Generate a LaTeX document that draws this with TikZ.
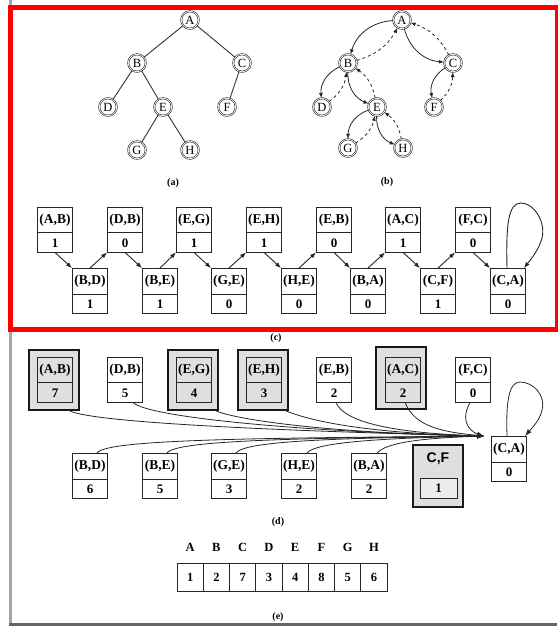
\documentclass[tikz,border=0pt]{standalone}
\usepackage{fontspec}
\setmainfont{Liberation Serif}
\newfontfamily\sansf{Liberation Sans}
\usetikzlibrary{arrows.meta}
\newcommand\ebox[6][]{%
  \node[ebx,#1] (#2) at (#3,#4) {};
  \draw[divl] ([yshift=-26pt]#2.north west) -- ([yshift=-26pt]#2.north east);
  \node[lbl] (#2-l) at ([yshift=-13.5pt]#2.north) {#5};
  \node[numf] (#2-n) at ([yshift=9.5pt]#2.south) {#6};
}
\begin{document}
\begin{tikzpicture}[x=1pt,y=-1pt,
  tnode/.style={circle,draw=black!85,double=white,double distance=0.7pt,line width=0.6pt,
    minimum size=17.5pt,inner sep=0pt,font=\fontsize{12.5}{12.5}\selectfont},
  tedge/.style={draw=black!80,line width=0.9pt},
  tarr/.style={draw=black!85,line width=0.8pt,-{Latex[length=5pt,width=4pt]}},
  sub/.style={font=\fontsize{10}{10}\selectfont\bfseries,inner sep=0pt},
  ebx/.style={draw=black!85,line width=0.9pt,minimum width=35pt,minimum height=45pt,inner sep=0pt},
  divl/.style={draw=black!85,line width=0.9pt},
  lbl/.style={font=\fontsize{13.5}{13.5}\selectfont\bfseries,inner sep=0pt},
  numf/.style={font=\fontsize{13}{13}\selectfont\bfseries,inner sep=0pt},
  shbox/.style={draw=black!90,line width=1.8pt,fill=gray!25,minimum width=50pt,minimum height=60pt,inner sep=0pt},
  carr/.style={draw=black!85,line width=0.9pt,-{Latex[length=6pt,width=4.5pt]}},
  darr/.style={draw=black!85,line width=0.8pt,-{Latex[length=7pt,width=5pt]}},
  cell/.style={draw=black!85,line width=0.9pt,minimum width=26.25pt,minimum height=28pt,inner sep=0pt,
    font=\fontsize{12.5}{12.5}\selectfont\bfseries},
  hdr/.style={font=\fontsize{12.5}{12.5}\selectfont\bfseries,inner sep=0pt}
]
\useasboundingbox (0,0) rectangle (557,626);
% gray page border
\draw[gray!70,line width=3pt] (10.5,0) -- (10.5,624.5);
\draw[black!60,line width=3pt] (9,624.5) -- (557,624.5);

% ---------- (a) tree ----------
\node[tnode] (aA) at (190,20) {A};
\node[tnode] (aB) at (137,63) {B};
\node[tnode] (aC) at (242,63) {C};
\node[tnode] (aD) at (108,107) {D};
\node[tnode] (aE) at (163,107) {E};
\node[tnode] (aF) at (227,107) {F};
\node[tnode] (aG) at (137,150) {G};
\node[tnode] (aH) at (190,150) {H};
\draw[tedge] (aA) -- (aB);
\draw[tedge] (aA) -- (aC);
\draw[tedge] (aB) -- (aD);
\draw[tedge] (aB) -- (aE);
\draw[tedge] (aC) -- (aF);
\draw[tedge] (aE) -- (aG);
\draw[tedge] (aE) -- (aH);
\node[sub] (la) at (173,183) {(a)};

% ---------- (b) Euler tour ----------
\node[tnode] (bA) at (402,20) {A};
\node[tnode] (bB) at (348,63) {B};
\node[tnode] (bC) at (453,63) {C};
\node[tnode] (bD) at (322,107) {D};
\node[tnode] (bE) at (377,107) {E};
\node[tnode] (bF) at (434,107) {F};
\node[tnode] (bG) at (348,148) {G};
\node[tnode] (bH) at (403,148) {H};
\foreach \p/\c in {bA/bB,bA/bC,bB/bD,bB/bE,bC/bF,bE/bG,bE/bH}{
  \draw[tarr] (\p) to[bend right=35] (\c);
  \draw[tarr,dashed] (\c) to[bend right=22] (\p);
}
\node[sub] (lb) at (387,182) {(b)};

% ---------- (c) linked list ----------
\ebox{cAB}{55}{229.5}{(A,B)}{1}
\ebox{cDB}{125}{229.5}{(D,B)}{0}
\ebox{cEG}{194}{229.5}{(E,G)}{1}
\ebox{cEH}{264}{229.5}{(E,H)}{1}
\ebox{cEB}{334}{229.5}{(E,B)}{0}
\ebox{cAC}{403}{229.5}{(A,C)}{1}
\ebox{cFC}{473}{229.5}{(F,C)}{0}
\ebox{cBD}{90}{291}{(B,D)}{1}
\ebox{cBE}{160}{291}{(B,E)}{1}
\ebox{cGE}{229}{291}{(G,E)}{0}
\ebox{cHE}{299}{291}{(H,E)}{0}
\ebox{cBA}{368}{291}{(B,A)}{0}
\ebox{cCF}{438}{291}{(C,F)}{1}
\ebox{cCA}{508}{291}{(C,A)}{0}
\foreach \t/\b/\n in {cAB/cBD/cDB,cDB/cBE/cEG,cEG/cGE/cEH,cEH/cHE/cEB,cEB/cBA/cAC,cAC/cCF/cFC}{
  \draw[carr] (\t.south) -- (\b.north west);
  \draw[carr] (\b.north) -- (\n.south west);
}
\draw[carr] (cFC.south) -- (cCA.north west);
\draw[carr] ([xshift=-1pt]cCA.north) .. controls (506,225) and (508,203) .. (521,203)
  .. controls (534,203) and (546,222) .. (542,238)
  .. controls (539,249) and (532,258) .. ([xshift=-2pt]cCA.north east);
\node[sub] (lc) at (276,338) {(c)};

% ---------- (d) ----------
\node[shbox] (dABo) at (54,380) {};
\node[shbox] (dEGo) at (193,380) {};
\node[shbox] (dEHo) at (263,380) {};
\node[shbox,minimum height=62pt] (dACo) at (401,378) {};
\ebox{dAB}{55}{379.5}{(A,B)}{7}
\ebox{dDB}{125}{379.5}{(D,B)}{5}
\ebox{dEG}{194}{379.5}{(E,G)}{4}
\ebox{dEH}{264}{379.5}{(E,H)}{3}
\ebox{dEB}{334}{379.5}{(E,B)}{2}
\ebox{dAC}{403}{379.5}{(A,C)}{2}
\ebox{dFC}{473}{379.5}{(F,C)}{0}
\ebox{dBD}{90}{476}{(B,D)}{6}
\ebox{dBE}{160}{476}{(B,E)}{5}
\ebox{dGE}{229}{476}{(G,E)}{3}
\ebox{dHE}{299}{476}{(H,E)}{2}
\ebox{dBA}{369}{476}{(B,A)}{2}
\ebox{dCA}{509}{459}{(C,A)}{0}
\node[shbox,minimum height=62pt] (dCFo) at (438,476) {};
\node[font=\sansf\bfseries\fontsize{14}{14}\selectfont,inner sep=0pt] (dCF-l) at (438,459) {C,F};
\node[draw=black!85,line width=0.8pt,fill=gray!15,minimum width=37pt,minimum height=20pt,inner sep=0pt,
  font=\fontsize{13}{13}\selectfont\bfseries] (dCF-n) at (438.5,488) {1};
\coordinate (conv) at ([xshift=-7pt]dCA.north west);
\draw[darr] ([xshift=-10pt]dABo.south east) .. controls +(25,12) and +(-200,-5) .. (conv);
\draw[darr] ([xshift=8pt]dDB.south) .. controls +(15,15) and +(-180,-4) .. (conv);
\draw[darr] ([xshift=-3pt]dEGo.south east) .. controls +(25,10) and +(-150,-3) .. (conv);
\draw[darr] ([xshift=-3pt]dEHo.south east) .. controls +(25,10) and +(-120,-3) .. (conv);
\draw[darr] ([xshift=2pt]dEB.south) .. controls +(8,20) and +(-90,-3) .. (conv);
\draw[darr] ([xshift=2pt]dAC.south) .. controls +(10,25) and +(-40,-4) .. (conv);
\draw[darr] ([xshift=-3pt]dFC.south) .. controls +(-12,22) and +(-10,-3) .. (conv);
\draw[darr] ([xshift=7pt]dBD.north) .. controls +(8,-14) and +(-220,2) .. (conv);
\draw[darr] ([xshift=7pt]dBE.north) .. controls +(8,-13) and +(-180,2) .. (conv);
\draw[darr] ([xshift=7pt]dGE.north) .. controls +(8,-12) and +(-150,2) .. (conv);
\draw[darr] ([xshift=8pt]dHE.north) .. controls +(8,-11) and +(-100,2) .. (conv);
\draw[darr] ([xshift=8pt]dBA.north) .. controls +(10,-11) and +(-60,2) .. (conv);
\draw[darr] ([xshift=-2pt]dCA.north) .. controls (506,405) and (508,382) .. (520,382)
  .. controls (533,382) and (546,395) .. (542,410)
  .. controls (540,420) and (532,428) .. ([xshift=-2pt]dCA.north east);
\node[sub] (ld) at (278,522) {(d)};

% ---------- (e) array ----------
\foreach \L/\v [count=\i] in {A/1,B/2,C/7,D/3,E/4,F/8,G/5,H/6}{
  \node[cell] (e\i) at ({177+26.25*(\i-0.5)},577) {\v};
  \node[hdr] (h\i) at ({177+26.25*(\i-0.5)},547) {\L};
}
\node[sub] (le) at (278,617) {(e)};

% red annotation frame
\draw[red,line width=5pt] (10.5,7.5) rectangle (557,329.5);
\end{tikzpicture}
\end{document}
